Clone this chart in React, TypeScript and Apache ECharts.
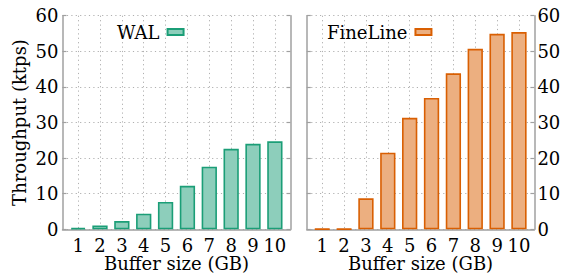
import React, { useEffect, useRef } from 'react';
import * as echarts from 'echarts';

const categories = ['1', '2', '3', '4', '5', '6', '7', '8', '9', '10'];
const walValues = [0.4, 1.1, 2.3, 4.4, 7.7, 12.2, 17.6, 22.6, 24.0, 24.7];
const fineLineValues = [0.1, 0.1, 8.7, 21.5, 31.3, 36.9, 43.8, 50.7, 54.9, 55.4];
const yMin = 0;
const yMax = 60;
const yInterval = 10;

const FONT = 'DejaVu Serif';
const FS = 18;
const AXIS_COLOR = '#a0a0a0';
const GRID_COLOR = '#b0b0b0';
const dotted = [1.2, 3.2];

const WAL_BORDER = '#1b9e77';
const WAL_FILL = '#8dcebb';
const FL_BORDER = '#d95f02';
const FL_FILL = '#ecaf80';

const TOP = 15.7;
const HEIGHT = 213.6;

const txt = { fontFamily: FONT, fontSize: FS, color: '#000', fontWeight: 'normal' };

export default function App() {
  const ref = useRef<HTMLDivElement>(null);
  useEffect(() => {
    if (!ref.current) return;
    const chart = echarts.init(ref.current, undefined, { renderer: 'svg' });
    const frameY = (pos: 'left' | 'right', gridIdx: number, labels: boolean, split: boolean, name: string) => ({
      type: 'value',
      gridIndex: gridIdx,
      position: pos,
      min: yMin,
      max: yMax,
      interval: yInterval,
      name: name,
      nameLocation: 'middle',
      nameGap: 34,
      nameMoveOverlap: false,
      nameTextStyle: { ...txt },
      axisLine: { show: true, lineStyle: { color: AXIS_COLOR, width: 1.5 } },
      axisTick: { show: true, inside: true, length: 4, lineStyle: { color: AXIS_COLOR, width: 1.2 } },
      axisLabel: { show: labels, ...txt, margin: pos === 'left' ? 4 : 3 },
      splitLine: { show: split, lineStyle: { color: GRID_COLOR, type: dotted, width: 1 } },
    });
    const frameX = (gridIdx: number) => ({
      type: 'value',
      gridIndex: gridIdx,
      min: 0,
      max: 1,
      axisLine: { show: true, lineStyle: { color: AXIS_COLOR, width: 1.5 } },
      axisTick: { show: false },
      axisLabel: { show: false },
      splitLine: { show: false },
    });
    const dataX = (gridIdx: number) => ({
      type: 'category',
      gridIndex: gridIdx,
      data: categories,
      name: 'Buffer size (GB)',
      nameLocation: 'middle',
      nameGap: 26,
      nameMoveOverlap: false,
      nameTextStyle: { ...txt, lineHeight: 16 },
      axisLine: { show: false },
      axisTick: { show: false, alignWithLabel: true },
      axisLabel: { ...txt, lineHeight: 16, margin: 8.5, interval: 0 },
      splitLine: { show: true, alignWithLabel: true, interval: 0, lineStyle: { color: GRID_COLOR, type: dotted, width: 1 } },
    });
    const dataY = (gridIdx: number) => ({
      type: 'value',
      gridIndex: gridIdx,
      min: yMin,
      max: yMax,
      interval: yInterval,
      show: false,
      splitLine: { show: false },
    });
    const grid = (left: number, width: number) => ({
      left, top: TOP, width, height: HEIGHT, containLabel: false, outerBoundsMode: 'none',
    });
    const legend = (name: string, left: number) => ({
      data: [name],
      left,
      top: 23,
      padding: 0,
      align: 'right',
      icon: 'rect',
      itemWidth: 16,
      itemHeight: 6,
      textStyle: { ...txt, padding: [0, 3, 0, 0] },
    });
    chart.setOption({
      animation: false,
      textStyle: { fontFamily: FONT },
      grid: [grid(62.5, 228), grid(67.2, 218.6), grid(306.8, 227.6), grid(311.3, 218.6)],
      xAxis: [frameX(0), dataX(1), frameX(2), dataX(3)],
      yAxis: [
        frameY('left', 0, true, true, 'Throughput (ktps)'),
        frameY('right', 0, false, false, ''),
        dataY(1),
        frameY('left', 2, false, true, ''),
        frameY('right', 2, true, false, ''),
        dataY(3),
      ],
      legend: [legend('WAL', 117), legend('FineLine', 327)],
      series: [
        {
          name: 'WAL',
          type: 'bar',
          xAxisIndex: 1,
          yAxisIndex: 2,
          data: walValues,
          barWidth: 15.3,
          itemStyle: { color: WAL_FILL, borderColor: WAL_BORDER, borderWidth: 1.6 },
        },
        {
          name: 'FineLine',
          type: 'bar',
          xAxisIndex: 3,
          yAxisIndex: 5,
          data: fineLineValues,
          barWidth: 15.3,
          itemStyle: { color: FL_FILL, borderColor: FL_BORDER, borderWidth: 1.6 },
        },
      ],
    });
    return () => chart.dispose();
  }, []);
  return <div ref={ref} style={{ width: 561, height: 276, position: 'absolute', left: 0, top: 0 }} />;
}
